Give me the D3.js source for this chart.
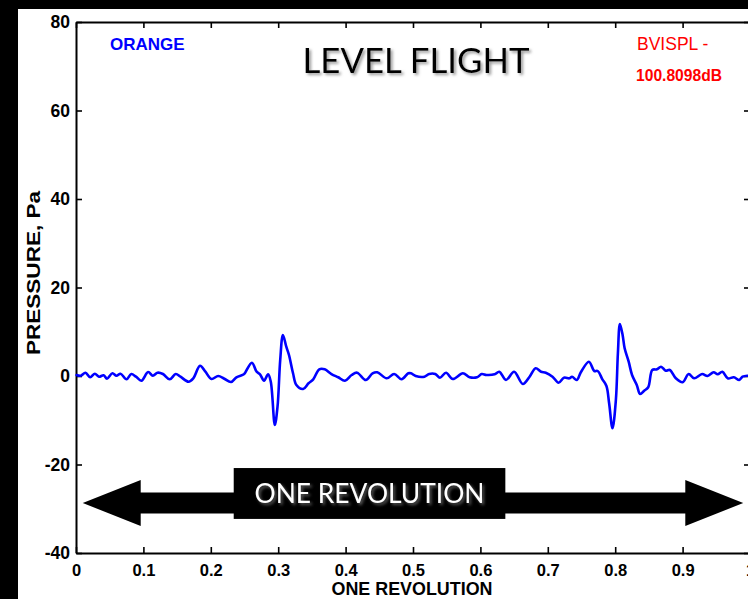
<!DOCTYPE html>
<html>
<head>
<meta charset="utf-8">
<script src="https://cdn.jsdelivr.net/npm/d3@7"></script>
<style>
  html, body { margin: 0; padding: 0; background: #fff; }
  svg { display: block; }
</style>
</head>
<body>
<svg id="chart" width="748" height="599"></svg>
<script>
// Blade-vortex interaction pressure over one rotor revolution (level flight)
const revolution = [
  0.001, 0.007, 0.014, 0.021, 0.028, 0.034, 0.041, 0.046, 0.054, 0.060, 0.066, 0.075,
  0.082, 0.089, 0.097, 0.107, 0.114, 0.121, 0.129, 0.139, 0.148, 0.155, 0.167, 0.174,
  0.184, 0.192, 0.201, 0.211, 0.220, 0.230, 0.238, 0.249, 0.251, 0.261, 0.268, 0.273,
  0.279, 0.285, 0.289, 0.295, 0.299, 0.303, 0.307, 0.312, 0.316, 0.322, 0.327, 0.337,
  0.345, 0.352, 0.361, 0.369, 0.379, 0.389, 0.399, 0.409, 0.417, 0.430, 0.440, 0.447,
  0.461, 0.472, 0.483, 0.493, 0.497, 0.504, 0.517, 0.524, 0.533, 0.540, 0.549, 0.559,
  0.574, 0.584, 0.595, 0.602, 0.609, 0.621, 0.628, 0.638, 0.650, 0.663, 0.673, 0.682,
  0.690, 0.697, 0.707, 0.716, 0.724, 0.732, 0.736, 0.743, 0.749, 0.761, 0.769, 0.774,
  0.781, 0.787, 0.791, 0.796, 0.801, 0.804, 0.807, 0.811, 0.814, 0.820, 0.825, 0.832,
  0.837, 0.843, 0.849, 0.855, 0.862, 0.868, 0.875, 0.881, 0.890, 0.900, 0.909, 0.917,
  0.929, 0.937, 0.946, 0.952, 0.959, 0.967, 0.976, 0.984, 0.989, 0.996
];
const pressure = [
  0.23, 0.07, 0.75, -0.29, 0.52, -0.16, 0.16, -0.61, 0.61, 0.07, 0.52, -0.75,
  0.45, -0.16, -1.06, 0.90, 0.07, 0.75, 0.45, -0.75, 0.45, -0.16, -1.29, -0.52,
  2.33, 0.97, -0.68, 0.00, -0.61, -1.36, -0.29, 0.38, 0.75, 3.01, 0.97, 0.38,
  -1.06, 0.38, -1.29, -11.07, -6.94, 3.62, 9.27, 6.62, 4.75, 0.61, -2.03, -2.94,
  -1.65, -0.75, 1.51, 1.51, 0.45, -0.29, -1.06, 0.23, 0.75, -0.90, 0.61, 0.84,
  -0.52, 0.45, -0.75, 0.61, 0.61, 0.00, -0.16, 0.45, 0.45, -0.38, 0.75, -0.68,
  0.61, -0.29, -0.29, 0.45, 0.23, 0.38, 0.97, -0.90, 0.97, -1.81, -0.16, 1.74,
  0.97, 0.75, -0.16, -1.51, -0.38, -0.52, -0.16, -0.90, 0.84, 3.23, 1.13, 1.13,
  -0.75, -2.26, -6.17, -11.82, -5.42, 5.13, 11.75, 9.27, 6.26, 3.23, 0.23, -2.03,
  -4.07, -3.32, -2.55, 1.36, 1.51, 2.10, 1.20, 1.36, -0.52, -1.42, 0.45, -0.52,
  0.45, 0.00, 0.84, 0.38, 0.97, -0.52, -0.29, -0.90, -0.16, 0.07
];
const xTicks = [0, 0.1, 0.2, 0.3, 0.4, 0.5, 0.6, 0.7, 0.8, 0.9, 1];
const yTicks = [-40, -20, 0, 20, 40, 60, 80];

const titleText = "LEVEL FLIGHT";
const seriesName = "ORANGE";
const metricName = "BVISPL -";
const metricValue = "100.8098dB";
const xTitle = "ONE REVOLUTION";
const yTitle = "PRESSURE, Pa";
const bannerText = "ONE REVOLUTION";

// double-headed arrow spanning the revolution, in data units
const arrowTips = [0.01, 0.99];
const arrowHeadBase = [0.096, 0.904];
const arrowLevel = -28.7;
const arrowShaftHalf = 2.4;
const arrowHeadHalf = 5.2;
const bannerBox = { x0: 0.234, x1: 0.637, y0: -20.8, y1: -32.3 };

const svg = d3.select("#chart");
const W = 748, H = 599;
const margin = { left: 76, top: 22, right: -2, bottom: 46 };

const x = d3.scaleLinear().domain([0, 1]).range([margin.left, W - margin.right]);
const y = d3.scaleLinear().domain([-40, 80]).range([H - margin.bottom, margin.top]);

// shadow filter for the display-face text
const defs = svg.append("defs");
const shadow = defs.append("filter").attr("id", "soft-shadow")
  .attr("x", "-10%").attr("y", "-30%").attr("width", "130%").attr("height", "170%");
shadow.append("feDropShadow").attr("dx", 2).attr("dy", 2).attr("stdDeviation", 1.4)
  .attr("flood-color", "#777").attr("flood-opacity", 0.75);

// dark frame around the figure
svg.append("rect").attr("x", 0).attr("y", 0).attr("width", W).attr("height", H).attr("fill", "#000");
svg.append("rect").attr("x", 18).attr("y", 9).attr("width", W - 18).attr("height", H - 9).attr("fill", "#fff");

const axisFont = "'Liberation Sans', Arial, sans-serif";
const tickLen = 6;
const plainNumber = d => String(d);

function styleAxis(g, size) {
  g.selectAll("path.domain").attr("stroke", "#000").attr("stroke-width", 2);
  g.selectAll(".tick line").attr("stroke", "#000").attr("stroke-width", 1.6);
  g.selectAll(".tick text").attr("fill", "#000").attr("font-family", axisFont)
    .attr("font-weight", "bold").attr("font-size", size);
}

// bottom axis with inward ticks
svg.append("g").attr("transform", `translate(0,${y(-40)})`)
  .call(d3.axisBottom(x).tickValues(xTicks).tickFormat(plainNumber)
    .tickSizeInner(-tickLen).tickSizeOuter(0).tickPadding(11))
  .call(g => styleAxis(g, 16.5));

// left axis with inward ticks
svg.append("g").attr("transform", `translate(${x(0)},0)`)
  .call(d3.axisLeft(y).tickValues(yTicks).tickFormat(plainNumber)
    .tickSizeInner(-tickLen).tickSizeOuter(0).tickPadding(6))
  .call(g => styleAxis(g, 17.5));

// top and right box edges with mirrored ticks
svg.append("g").attr("transform", `translate(0,${y(80)})`)
  .call(d3.axisTop(x).tickValues(xTicks).tickFormat("").tickSizeInner(-tickLen).tickSizeOuter(0))
  .call(g => styleAxis(g, 0));
svg.append("g").attr("transform", `translate(${x(1)},0)`)
  .call(d3.axisRight(y).tickValues(yTicks).tickFormat("").tickSizeInner(-tickLen).tickSizeOuter(0))
  .call(g => styleAxis(g, 0));

// axis titles
svg.append("text").attr("x", 412).attr("y", 595).attr("text-anchor", "middle")
  .attr("font-family", axisFont).attr("font-weight", "bold").attr("font-size", 17.5)
  .attr("textLength", 161).attr("lengthAdjust", "spacingAndGlyphs")
  .text(xTitle);
svg.append("text").attr("transform", `translate(40,${273}) rotate(-90)`).attr("text-anchor", "middle")
  .attr("font-family", axisFont).attr("font-weight", "bold").attr("font-size", 17.5)
  .attr("textLength", 164).attr("lengthAdjust", "spacingAndGlyphs")
  .text(yTitle);

// pressure trace
const series = revolution.map((r, i) => ({ r, p: pressure[i] }));
svg.append("path").datum(series)
  .attr("fill", "none").attr("stroke", "#0000ff").attr("stroke-width", 2.6)
  .attr("stroke-linejoin", "round").attr("stroke-linecap", "round")
  .attr("d", d3.line().x(d => x(d.r)).y(d => y(d.p)).curve(d3.curveCatmullRom.alpha(0.5)));

// double-headed arrow
const arrowPts = [
  [arrowTips[0], arrowLevel],
  [arrowHeadBase[0], arrowLevel + arrowHeadHalf],
  [arrowHeadBase[0], arrowLevel + arrowShaftHalf],
  [arrowHeadBase[1], arrowLevel + arrowShaftHalf],
  [arrowHeadBase[1], arrowLevel + arrowHeadHalf],
  [arrowTips[1], arrowLevel],
  [arrowHeadBase[1], arrowLevel - arrowHeadHalf],
  [arrowHeadBase[1], arrowLevel - arrowShaftHalf],
  [arrowHeadBase[0], arrowLevel - arrowShaftHalf],
  [arrowHeadBase[0], arrowLevel - arrowHeadHalf]
];
svg.append("path")
  .attr("d", d3.line().x(d => x(d[0])).y(d => y(d[1]))(arrowPts) + "Z")
  .attr("fill", "#000");
svg.append("rect")
  .attr("x", x(bannerBox.x0)).attr("y", y(bannerBox.y0))
  .attr("width", x(bannerBox.x1) - x(bannerBox.x0))
  .attr("height", y(bannerBox.y1) - y(bannerBox.y0))
  .attr("fill", "#000");

const displayFont = "'Gill Sans', 'Gill Sans MT', Lato, 'Open Sans', sans-serif";
svg.append("text")
  .attr("x", (x(bannerBox.x0) + x(bannerBox.x1)) / 2).attr("y", 503)
  .attr("text-anchor", "middle").attr("font-family", displayFont).attr("font-size", 26)
  .attr("fill", "#fff").attr("filter", "url(#soft-shadow)")
  .attr("textLength", 230).attr("lengthAdjust", "spacingAndGlyphs")
  .text(bannerText);

// title and annotations
svg.append("text").attr("x", 416).attr("y", 73).attr("text-anchor", "middle")
  .attr("font-family", displayFont).attr("font-size", 35).attr("fill", "#000")
  .attr("filter", "url(#soft-shadow)")
  .attr("textLength", 227).attr("lengthAdjust", "spacingAndGlyphs")
  .text(titleText);

svg.append("text").attr("x", 110).attr("y", 50)
  .attr("font-family", axisFont).attr("font-weight", "bold").attr("font-size", 17)
  .attr("fill", "#0000ff").text(seriesName);

svg.append("text").attr("x", 637).attr("y", 50)
  .attr("font-family", axisFont).attr("font-size", 17.5)
  .attr("fill", "#ff0000").text(metricName);
svg.append("text").attr("x", 636).attr("y", 80.5)
  .attr("font-family", axisFont).attr("font-weight", "bold").attr("font-size", 16)
  .attr("fill", "#ff0000")
  .attr("textLength", 86).attr("lengthAdjust", "spacingAndGlyphs")
  .text(metricValue);
</script>
</body>
</html>
